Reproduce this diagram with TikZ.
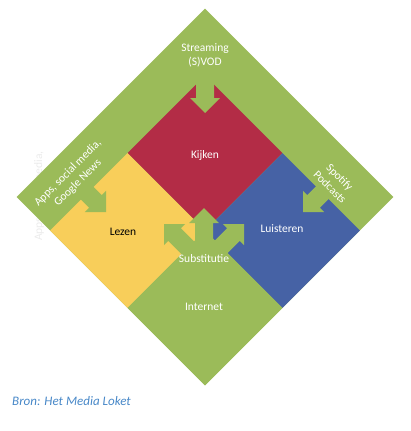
\documentclass[tikz,border=0pt]{standalone}
\usepackage{fontspec}
\usepackage{tikz}
\usetikzlibrary{shapes.geometric,positioning}
\newfontfamily\calib{Carlito}
\definecolor{mdgreen}{RGB}{155,187,89}
\definecolor{mdred}{RGB}{179,44,70}
\definecolor{mdyellow}{RGB}{248,206,90}
\definecolor{mdblue}{RGB}{70,98,165}
\definecolor{mdsrc}{RGB}{72,136,200}
\tikzset{
  tile/.style={
    diamond, aspect=1, inner sep=0pt, minimum size=155pt
  },
  lbl/.style={
    font=\calib\fontsize{11.5}{14}\selectfont, text=white,
    align=center, inner sep=0pt
  },
  ghost/.style={lbl, text=black!8},
  blk/.pic={
    \fill[mdgreen] (0,0) -- (-15,-15) -- (-15,-9) -- (-45,-9)
      -- (-45,9) -- (-15,9) -- (-15,15) -- cycle;
  }
}
\begin{document}
\begin{tikzpicture}[x=1pt, y=-1pt]
  \useasboundingbox (0,0) rectangle (411,431);
  \node[ghost, rotate=90] (old) at (39,196) {Apps, social media,};
  % the frame and its four tiles
  \node[tile, fill=mdgreen, minimum size=377pt] (frame) at (205,197) {};
  \node[tile, fill=mdred] (kijken) at (205,153) {};
  \node[tile, fill=mdyellow] (lezen) at (127.5,230.5) {};
  \node[tile, fill=mdblue] (luisteren) at (282.5,230.5) {};
  \node[tile, fill=mdgreen] (internet) at (205,308) {};
  % arrows out of the band
  \pic[rotate=-90] at (205,113) {blk};
  \pic[rotate=-45] at (106,212) {blk};
  \pic[rotate=-135] at (303,212) {blk};
  % substitution
  \foreach \r/\p in {90/{204,208}, 135/{164,224}, 45/{244,224}}
    \pic[rotate=\r] at (\p) {blk};
  \node[lbl] (svod) at (205,55) {Streaming\\(S)VOD};
  \node[lbl, rotate=45] (apps) at (73,178) {Apps, social media,\\Google News};
  \node[lbl, rotate=-45] (spot) at (335,182) {Spotify\\Podcasts};
  \node[lbl] (tk) at (205,155) {Kijken};
  \node[lbl, text=black] (tl) at (123,232) {Lezen};
  \node[lbl] (tu) at (282,229) {Luisteren};
  \node[lbl] (ts) at (204,259) {Substitutie};
  \node[lbl] (ti) at (204,307) {Internet};
  \node[anchor=west, inner sep=0pt, text=mdsrc,
    font=\calib\itshape\fontsize{13}{15}\selectfont] (bron) at (12,401)
    {Bron: Het Media Loket};
\end{tikzpicture}
\end{document}
